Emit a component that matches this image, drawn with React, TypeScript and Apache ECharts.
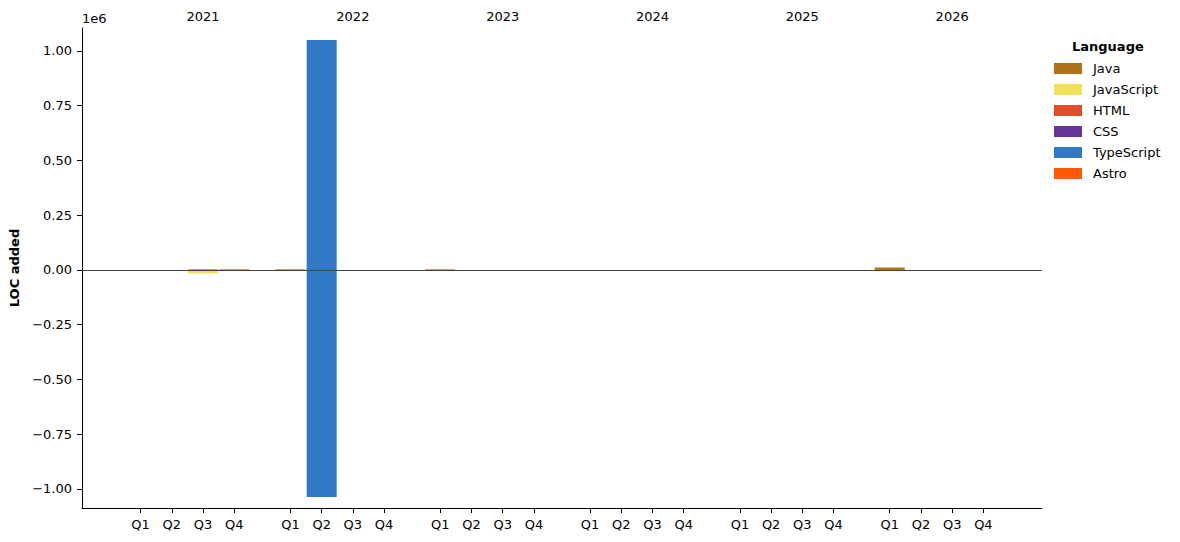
import React, { useEffect, useRef } from "react";
import * as echarts from "echarts";

const years = ["2021", "2022", "2023", "2024", "2025", "2026"];
const quarters = ["Q1", "Q2", "Q3", "Q4"];
const languages = ["Java", "JavaScript", "HTML", "CSS", "TypeScript", "Astro"];
const colors = ["#b07219", "#f1e05a", "#e34c26", "#663399", "#3178c6", "#ff5a03"];

// 24 quarters: 2021Q1..2026Q4 — lines added (positive) and removed (negative)
const javaAdded = [0, 0, 3000, 3000, 3000, 3000, 0, 0, 3000, 0, 0, 0, 0, 0, 0, 0, 0, 0, 0, 0, 11000, 0, 0, 0];
const javaRemoved = [0, 0, 0, 0, 0, 0, 0, 0, 0, 0, 0, 0, 0, 0, 0, 0, 0, 0, 0, 0, 0, 0, 0, 0];
const jsAdded = [0, 0, 0, 0, 0, 0, 0, 0, 0, 0, 0, 0, 0, 0, 0, 0, 0, 0, 0, 0, 0, 0, 0, 0];
const jsRemoved = [0, 0, -16000, 0, 0, 0, 0, 0, 0, 0, 0, 0, 0, 0, 0, 0, 0, 0, 0, 0, 0, 0, 0, 0];
const htmlAdded = [0, 0, 0, 0, 0, 0, 0, 0, 0, 0, 0, 0, 0, 0, 0, 0, 0, 0, 0, 0, 0, 0, 0, 0];
const htmlRemoved = [0, 0, 0, 0, 0, 0, 0, 0, 0, 0, 0, 0, 0, 0, 0, 0, 0, 0, 0, 0, 0, 0, 0, 0];
const cssAdded = [0, 0, 0, 0, 0, 0, 0, 0, 0, 0, 0, 0, 0, 0, 0, 0, 0, 0, 0, 0, 0, 0, 0, 0];
const cssRemoved = [0, 0, 0, 0, 0, 0, 0, 0, 0, 0, 0, 0, 0, 0, 0, 0, 0, 0, 0, 0, 0, 0, 0, 0];
const tsAdded = [0, 0, 0, 0, 0, 1050000, 0, 0, 0, 0, 0, 0, 0, 0, 0, 0, 0, 0, 0, 0, 0, 0, 0, 0];
const tsRemoved = [0, 0, 0, 0, 0, -1037000, 0, 0, 0, 0, 0, 0, 0, 0, 0, 0, 0, 0, 0, 0, 0, 0, 0, 0];
const astroAdded = [0, 0, 0, 0, 0, 0, 0, 0, 0, 0, 0, 0, 0, 0, 0, 0, 0, 0, 0, 0, 0, 0, 0, 0];
const astroRemoved = [0, 0, 0, 0, 0, 0, 0, 0, 0, 0, 0, 0, 0, 0, 0, 0, 0, 0, 0, 0, 0, 0, 0, 0];

const addedByLang = [javaAdded, jsAdded, htmlAdded, cssAdded, tsAdded, astroAdded];
const removedByLang = [javaRemoved, jsRemoved, htmlRemoved, cssRemoved, tsRemoved, astroRemoved];

const yTicks = [-1000000, -750000, -500000, -250000, 0, 250000, 500000, 750000, 1000000];

const YEAR_STEP = 4.8;
const positions: number[] = [];
const posLabels: string[] = [];
years.forEach((y, yi) => {
  quarters.forEach((q, qi) => {
    positions.push(+(yi * YEAR_STEP + qi).toFixed(4));
    posLabels.push(q);
  });
});
const yearPositions = years.map((_, yi) => +(yi * YEAR_STEP + 2).toFixed(4));

const FONT = "DejaVu Sans";

export default function App() {
  const ref = useRef<HTMLDivElement>(null);
  useEffect(() => {
    if (!ref.current) return;
    const chart = echarts.init(ref.current, undefined, { renderer: "svg" });
    const nearest = (v: number, arr: number[]) => {
      let best = 0;
      arr.forEach((p, i) => {
        if (Math.abs(p - v) < Math.abs(arr[best] - v)) best = i;
      });
      return best;
    };
    const series: any[] = [];
    languages.forEach((lang, li) => {
      [addedByLang[li], removedByLang[li]].forEach((arr) => {
        series.push({
          type: "bar",
          name: lang,
          stack: "loc",
          barWidth: 30,
          itemStyle: { color: colors[li] },
          data: arr.map((v, i) => [positions[i], v]),
        });
      });
    });
    series.push({
      type: "line",
      name: "zero",
      data: [],
      markLine: {
        silent: true,
        symbol: "none",
        label: { show: false },
        lineStyle: { color: "#444", width: 1, type: "solid" },
        data: [{ yAxis: 0 }],
      },
    });
    chart.setOption({
      animation: false,
      textStyle: { fontFamily: FONT },
      grid: { left: 82, right: 138, top: 28, bottom: 34 },
      legend: {
        data: languages,
        orient: "vertical",
        left: 1054,
        top: 61,
        padding: 0,
        icon: "rect",
        itemWidth: 28,
        itemHeight: 11,
        itemGap: 6,
        textStyle: { fontSize: 13, color: "#000", fontFamily: FONT, lineHeight: 15, padding: [0, 0, 0, 6] },
      },
      xAxis: [
        {
          type: "value",
          min: -1.878,
          max: 28.878,
          splitLine: { show: false },
          axisLine: { show: true, onZero: false, lineStyle: { color: "#000", width: 1 } },
          axisTick: { show: true, length: 5, lineStyle: { color: "#000" }, customValues: positions },
          axisLabel: {
            customValues: positions,
            fontSize: 13,
            color: "#000",
            fontFamily: FONT,
            margin: 10,
            formatter: (v: number) => posLabels[nearest(v, positions)],
          },
        },
        {
          type: "value",
          position: "top",
          min: -1.878,
          max: 28.878,
          splitLine: { show: false },
          axisLine: { show: false },
          axisTick: { show: false, customValues: yearPositions },
          axisLabel: {
            customValues: yearPositions,
            fontSize: 13,
            color: "#000",
            fontFamily: FONT,
            margin: 5,
            formatter: (v: number) => years[nearest(v, yearPositions)],
          },
        },
      ],
      yAxis: {
        type: "value",
        min: -1087000,
        max: 1105000,
        splitLine: { show: false },
        axisLine: { show: true, onZero: false, lineStyle: { color: "#000", width: 1 } },
        axisTick: { show: true, length: 5, lineStyle: { color: "#000" }, customValues: yTicks },
        axisLabel: {
          customValues: yTicks,
          fontSize: 13,
          color: "#000",
          fontFamily: FONT,
          margin: 10,
          formatter: (v: number) => {
            const s = (Math.abs(v) / 1e6).toFixed(2);
            return v < 0 ? "\u2212" + s : s;
          },
        },
        name: "LOC added",
        nameLocation: "middle",
        nameGap: 61,
        nameTextStyle: { fontSize: 13, fontWeight: "bold", color: "#000", fontFamily: FONT },
      },
      graphic: [
        {
          type: "text",
          left: 82,
          top: 12,
          style: { text: "1e6", fontSize: 13, fill: "#000", fontFamily: FONT },
        },
        {
          type: "text",
          left: 1072,
          top: 40,
          style: { text: "Language", fontSize: 13, fontWeight: "bold", fill: "#000", fontFamily: FONT },
        },
      ],
      series,
    });
    return () => chart.dispose();
  }, []);
  return <div ref={ref} style={{ width: 1180, height: 542, position: "absolute", left: 0, top: 0 }} />;
}
